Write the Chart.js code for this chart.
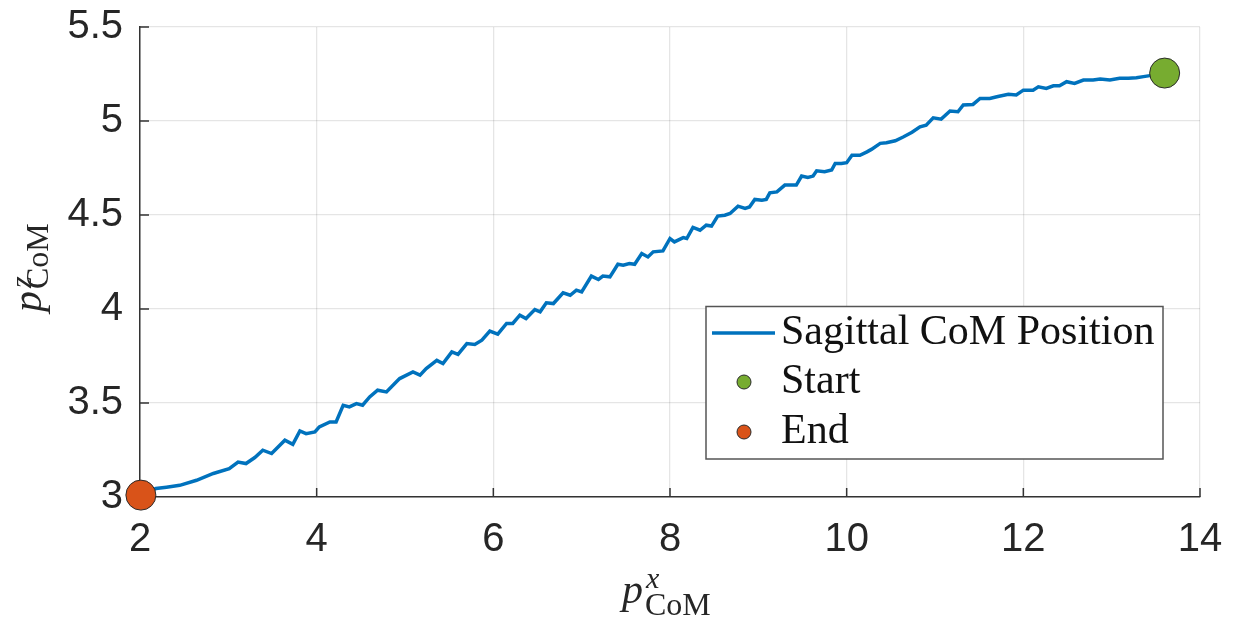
<!DOCTYPE html>
<html>
<head>
<meta charset="utf-8">
<title>Sagittal CoM Position</title>
<script src="https://cdn.jsdelivr.net/npm/chart.js@4.4.1/dist/chart.umd.min.js"></script>
<style>
  html, body { margin: 0; padding: 0; background: #fff; }
  #wrap { width: 1234px; height: 624px; }
</style>
</head>
<body>
<div id="wrap"><canvas id="comChart"></canvas></div>
<script>
// CoM trace in the sagittal plane (x forward, z up)
const comX = [
  2.01, 2.10, 2.18, 2.30, 2.45, 2.64, 2.83, 3.01, 3.11, 3.20,
  3.30, 3.39, 3.49, 3.64, 3.73, 3.81, 3.88, 3.98, 4.03, 4.15,
  4.22, 4.30, 4.37, 4.45, 4.52, 4.60, 4.69, 4.79, 4.90, 4.94,
  5.09, 5.17, 5.24, 5.36, 5.43, 5.53, 5.60, 5.70, 5.79, 5.87,
  5.96, 6.05, 6.15, 6.22, 6.30, 6.37, 6.47, 6.53, 6.60, 6.68,
  6.79, 6.87, 6.94, 7.00, 7.11, 7.19, 7.24, 7.32, 7.41, 7.47,
  7.54, 7.60, 7.68, 7.75, 7.81, 7.92, 8.00, 8.05, 8.15, 8.19,
  8.26, 8.34, 8.41, 8.47, 8.54, 8.62, 8.68, 8.77, 8.85, 8.90,
  8.96, 9.04, 9.09, 9.13, 9.21, 9.30, 9.38, 9.43, 9.49, 9.56,
  9.62, 9.66, 9.75, 9.83, 9.87, 9.94, 10.00, 10.06, 10.15, 10.23,
  10.28, 10.38, 10.45, 10.55, 10.64, 10.74, 10.83, 10.90, 10.98, 11.07,
  11.17, 11.26, 11.32, 11.43, 11.51, 11.62, 11.70, 11.83, 11.92, 12.00,
  12.11, 12.17, 12.26, 12.34, 12.41, 12.49, 12.58, 12.68, 12.79, 12.87,
  12.98, 13.09, 13.19, 13.28, 13.36, 13.47, 13.60
];
const comZ = [
  3.010, 3.030, 3.045, 3.052, 3.062, 3.089, 3.125, 3.151, 3.186, 3.178,
  3.210, 3.249, 3.231, 3.302, 3.280, 3.351, 3.337, 3.346, 3.373, 3.399,
  3.399, 3.488, 3.479, 3.497, 3.488, 3.532, 3.568, 3.559, 3.612, 3.630,
  3.665, 3.648, 3.683, 3.727, 3.710, 3.772, 3.759, 3.816, 3.811, 3.834,
  3.882, 3.866, 3.923, 3.923, 3.967, 3.949, 3.997, 3.985, 4.033, 4.029,
  4.086, 4.073, 4.100, 4.091, 4.175, 4.157, 4.175, 4.171, 4.238, 4.233,
  4.242, 4.238, 4.295, 4.277, 4.304, 4.309, 4.375, 4.357, 4.380, 4.375,
  4.434, 4.419, 4.446, 4.441, 4.494, 4.499, 4.508, 4.547, 4.535, 4.543,
  4.583, 4.579, 4.583, 4.618, 4.623, 4.659, 4.659, 4.659, 4.707, 4.700,
  4.707, 4.735, 4.730, 4.739, 4.774, 4.774, 4.778, 4.818, 4.818, 4.836,
  4.849, 4.881, 4.884, 4.895, 4.915, 4.940, 4.969, 4.978, 5.017, 5.010,
  5.053, 5.049, 5.085, 5.088, 5.120, 5.120, 5.129, 5.142, 5.138, 5.164,
  5.164, 5.182, 5.173, 5.187, 5.187, 5.209, 5.200, 5.218, 5.218, 5.223,
  5.218, 5.227, 5.227, 5.230, 5.236, 5.244, 5.255
];
const startX = [13.60];
const startZ = [5.255];
const endX = [2.01];
const endZ = [3.01];

const xTicks = [2, 4, 6, 8, 10, 12, 14];
const yTicks = [3, 3.5, 4, 4.5, 5, 5.5];

const AXIS_COLOR = '#333333';
const TEXT_COLOR = '#262626';

function toPoints(xs, ys) {
  return xs.map((x, i) => ({ x: x, y: ys[i] }));
}

// p^{sup}_{sub} drawn with serif glyphs, starting at (0, 0) on the baseline
function drawMathLabel(ctx, sup, sub, supDy, subDy) {
  ctx.fillStyle = TEXT_COLOR;
  ctx.textBaseline = 'alphabetic';
  ctx.textAlign = 'left';
  ctx.font = 'italic 42px "Liberation Serif"';
  ctx.fillText('p', 0, 0);
  let wp = ctx.measureText('p').width;
  ctx.font = 'italic 30px "Liberation Serif"';
  ctx.fillText(sup, wp + 3, supDy);
  ctx.font = '32px "Liberation Serif"';
  ctx.fillText(sub, wp + 2, subDy);
}

// inward tick marks, under the data
const innerTicks = {
  id: 'innerTicks',
  beforeDatasetsDraw(chart) {
    let ctx = chart.ctx;
    let area = chart.chartArea;
    let xs = chart.scales.x;
    let ys = chart.scales.y;
    ctx.save();
    ctx.strokeStyle = AXIS_COLOR;
    ctx.lineWidth = 1.5;
    ctx.beginPath();
    xTicks.forEach((v) => {
      let px = xs.getPixelForValue(v);
      ctx.moveTo(px, area.bottom);
      ctx.lineTo(px, area.bottom - 9);
    });
    yTicks.forEach((v) => {
      let py = ys.getPixelForValue(v);
      ctx.moveTo(area.left, py);
      ctx.lineTo(area.left + 9, py);
    });
    ctx.stroke();
    ctx.restore();
  }
};

const axisTitles = {
  id: 'axisTitles',
  afterDraw(chart) {
    let ctx = chart.ctx;
    ctx.save();
    ctx.translate(622, 603);
    drawMathLabel(ctx, 'x', 'CoM', -15, 12);
    ctx.restore();

    ctx.save();
    ctx.translate(41, 312);
    ctx.rotate(-Math.PI / 2);
    drawMathLabel(ctx, 'z', 'CoM', -10, 7);
    ctx.restore();
  }
};

const boxLegend = {
  id: 'boxLegend',
  afterDraw(chart) {
    let ctx = chart.ctx;
    let sets = chart.data.datasets;
    let left = 706, top = 306.5, w = 457, h = 152.5;
    ctx.save();
    ctx.fillStyle = '#ffffff';
    ctx.fillRect(left, top, w, h);
    ctx.strokeStyle = '#555555';
    ctx.lineWidth = 1.5;
    ctx.strokeRect(left, top, w, h);

    let rowY = [333, 382, 432];
    ctx.font = '42px "Liberation Serif"';
    ctx.textBaseline = 'alphabetic';
    ctx.textAlign = 'left';
    sets.forEach((ds, i) => {
      let y = rowY[i];
      if (ds.showLine) {
        ctx.strokeStyle = ds.borderColor;
        ctx.lineWidth = 3.5;
        ctx.beginPath();
        ctx.moveTo(left + 6, y);
        ctx.lineTo(left + 69, y);
        ctx.stroke();
      } else {
        ctx.fillStyle = ds.backgroundColor;
        ctx.strokeStyle = ds.borderColor;
        ctx.lineWidth = 1;
        ctx.beginPath();
        ctx.arc(left + 38, y, 7, 0, Math.PI * 2);
        ctx.fill();
        ctx.stroke();
      }
      ctx.fillStyle = '#111111';
      ctx.fillText(ds.label, left + 75, y + 11);
    });
    ctx.restore();
  }
};

document.addEventListener('DOMContentLoaded', function () {
  let ctx = document.getElementById('comChart').getContext('2d');

  new Chart(ctx, {
    type: 'scatter',
    data: {
      datasets: [
        {
          label: 'Sagittal CoM Position',
          data: toPoints(comX, comZ),
          showLine: true,
          borderColor: '#0072BD',
          backgroundColor: '#0072BD',
          borderWidth: 3.5,
          pointRadius: 0,
          tension: 0,
          order: 2,
        },
        {
          label: 'Start',
          data: toPoints(startX, startZ),
          backgroundColor: '#77AC30',
          borderColor: '#2b2b2b',
          borderWidth: 1,
          pointRadius: 15,
          clip: false,
          order: 1,
        },
        {
          label: 'End',
          data: toPoints(endX, endZ),
          backgroundColor: '#D95319',
          borderColor: '#2b2b2b',
          borderWidth: 1,
          pointRadius: 15,
          clip: false,
          order: 0,
        },
      ],
    },
    options: {
      responsive: true,
      maintainAspectRatio: false,
      animation: false,
      layout: { padding: { top: 27, right: 34, left: 0, bottom: 0 } },
      plugins: {
        legend: { display: false },
        tooltip: { enabled: false },
      },
      scales: {
        x: {
          type: 'linear',
          min: 2,
          max: 14,
          afterBuildTicks: (scale) => { scale.ticks = xTicks.map((v) => ({ value: v })); },
          afterFit: (scale) => {
            scale.height = 127;
            scale.paddingLeft = 0;
            scale.paddingRight = 0;
          },
          ticks: {
            color: TEXT_COLOR,
            padding: 19,
            font: { family: '"Liberation Sans"', size: 40 },
            callback: (v) => String(v),
          },
          grid: { color: 'rgba(0,0,0,0.1)', lineWidth: 1.3, drawTicks: false },
          border: { color: AXIS_COLOR, width: 1.5 },
        },
        y: {
          type: 'linear',
          min: 3,
          max: 5.5,
          afterBuildTicks: (scale) => { scale.ticks = yTicks.map((v) => ({ value: v })); },
          afterFit: (scale) => {
            scale.width = 140;
            scale.paddingTop = 0;
            scale.paddingBottom = 0;
          },
          ticks: {
            color: TEXT_COLOR,
            padding: 17,
            font: { family: '"Liberation Sans"', size: 40 },
            callback: (v) => String(v),
          },
          grid: { color: 'rgba(0,0,0,0.1)', lineWidth: 1.3, drawTicks: false },
          border: { color: AXIS_COLOR, width: 1.5 },
        },
      },
    },
    plugins: [innerTicks, axisTitles, boxLegend],
  });
});
</script>
</body>
</html>
